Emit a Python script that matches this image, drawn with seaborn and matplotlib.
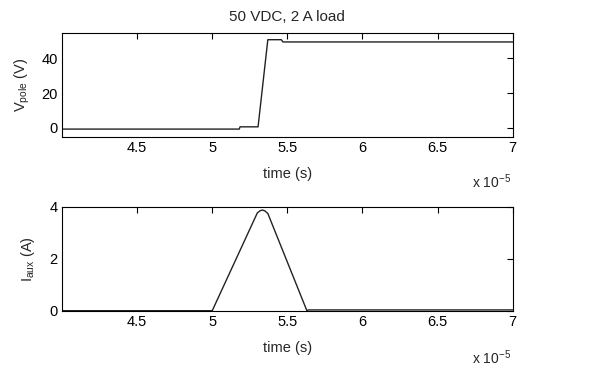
import matplotlib
matplotlib.use("Agg")
import matplotlib.pyplot as plt
import matplotlib.ticker as mticker
import seaborn as sns
import pandas as pd
import numpy as np

# --- data (time in seconds) ---
t_v = [4.00e-5, 5.18e-5, 5.185e-5, 5.305e-5, 5.37e-5, 5.46e-5, 5.47e-5, 7.00e-5]
v_pole = [-0.8, -0.8, 0.5, 0.5, 50.8, 50.8, 49.5, 49.5]

t_i = [4.00e-5, 5.00e-5, 5.30e-5, 5.32e-5, 5.335e-5, 5.35e-5, 5.37e-5, 5.63e-5, 5.64e-5, 7.00e-5]
i_aux = [0.0, 0.0, 3.76, 3.85, 3.87, 3.84, 3.74, 0.0, 0.03, 0.03]

xticks = [4.5e-5, 5.0e-5, 5.5e-5, 6.0e-5, 6.5e-5, 7.0e-5]
v_yticks = [0, 20, 40]
i_yticks = [0, 2, 4]

sns.set_style("white")
plt.rcParams['font.family'] = ['Liberation Sans', 'DejaVu Sans']
plt.rcParams['mathtext.fontset'] = 'custom'
plt.rcParams['mathtext.rm'] = 'Liberation Sans'
plt.rcParams['mathtext.it'] = 'Liberation Sans'

fig = plt.figure(figsize=(6.03, 3.67), dpi=100)
ax1 = fig.add_axes([0.1028, 0.6275, 0.7475, 0.2818])
ax2 = fig.add_axes([0.1028, 0.1534, 0.7475, 0.2834])

dfv = pd.DataFrame({"t": t_v, "v": v_pole})
dfi = pd.DataFrame({"t": t_i, "i": i_aux})
sns.lineplot(data=dfv, x="t", y="v", ax=ax1, color="#222222", lw=1.0)
sns.lineplot(data=dfi, x="t", y="i", ax=ax2, color="#222222", lw=1.0)

fmt = mticker.FuncFormatter(lambda x, p: f"{x*1e5:g}")
for ax, yt, yl in [(ax1, v_yticks, (-5.2, 54.5)), (ax2, i_yticks, (0, 4))]:
    ax.set_xlim(4e-5, 7e-5)
    ax.set_ylim(*yl)
    ax.set_xticks(xticks)
    ax.xaxis.set_major_formatter(fmt)
    ax.set_yticks(yt)
    ax.tick_params(direction='in', length=4, width=0.8, top=True, right=True,
                   labelsize=10.5, colors='black')
    ax.tick_params(axis='x', pad=3)
    ax.tick_params(axis='y', pad=3)
    for s in ax.spines.values():
        s.set_visible(True)
        s.set_color('black')
        s.set_linewidth(0.8)
    ax.set_xlabel("time (s)", fontsize=10.5, labelpad=9)

ax1.set_ylabel(r"V$_{\rm pole}$ (V)", fontsize=10.5, labelpad=7)
ax2.set_ylabel(r"I$_{\rm aux}$ (A)", fontsize=10.5, labelpad=9)
ax1.set_title("50 VDC, 2 A load", fontsize=11, pad=9)

fig.text(0.848, 0.488, r"x 10$^{-5}$", fontsize=10, ha='right', va='baseline')
fig.text(0.848, 0.008, r"x 10$^{-5}$", fontsize=10, ha='right', va='baseline')

fig.savefig("out.png", dpi=100)
